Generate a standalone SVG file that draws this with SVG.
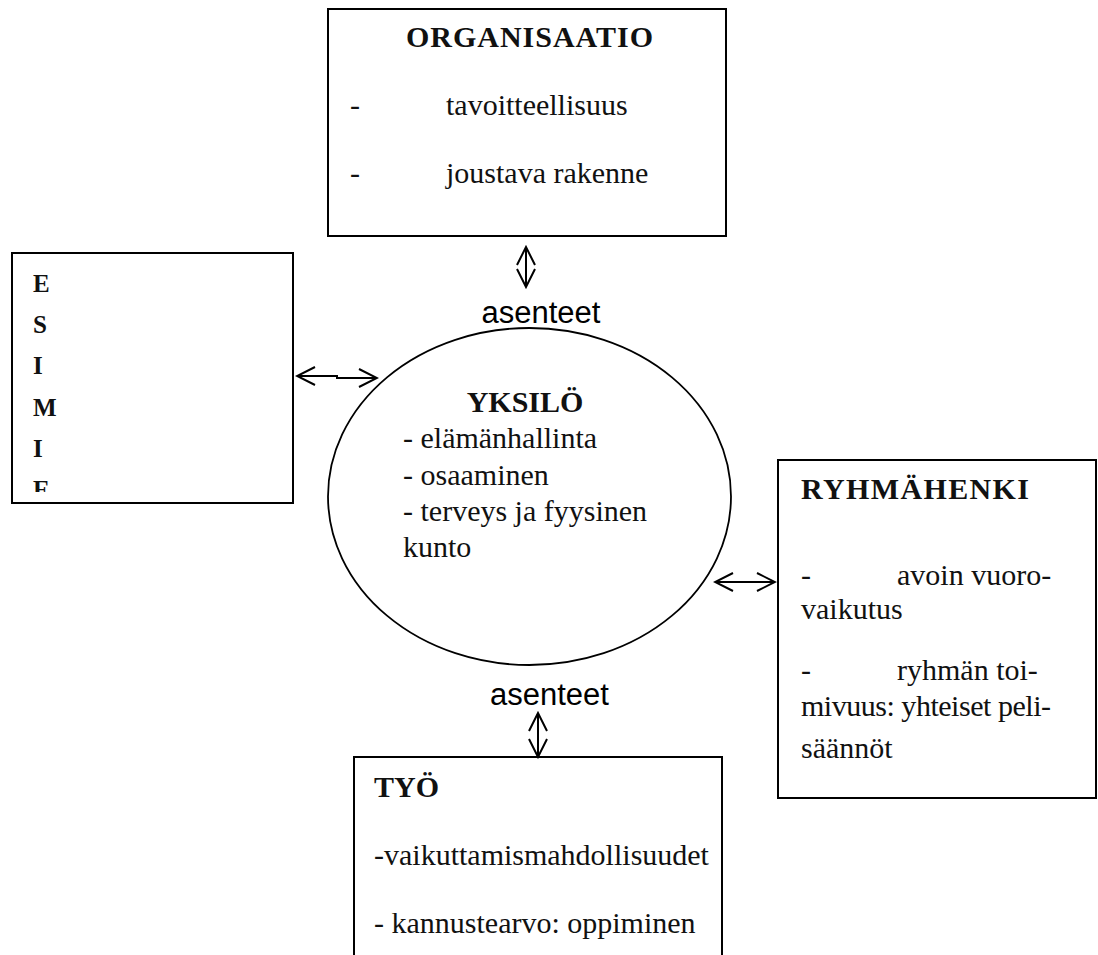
<svg xmlns="http://www.w3.org/2000/svg" width="1098" height="955" viewBox="0 0 1098 955">
  <style>
    .box { fill: #fff; stroke: #000; stroke-width: 2; }
    .serif { font-family: "Liberation Serif", "Times New Roman", serif; font-size: 30px; fill: #111; }
    .bold { font-weight: bold; }
    .esi { font-family: "Liberation Serif", "Times New Roman", serif; font-size: 25px; font-weight: bold; fill: #111; }
    .sans { font-family: "Liberation Sans", Arial, sans-serif; font-size: 31px; fill: #000; }
    .conn { fill: none; stroke: #000; stroke-width: 2; }
  </style>
  <defs>
    <marker id="chev" markerUnits="userSpaceOnUse" viewBox="-20 -11 22 22" refX="0" refY="0" markerWidth="22" markerHeight="22" orient="auto-start-reverse">
      <path d="M -18 -9 L 0 0 L -18 9" fill="none" stroke="#000" stroke-width="2"/>
    </marker>
    <clipPath id="esiClip">
      <rect x="13" y="254" width="279" height="238"/>
    </clipPath>
  </defs>
  <rect width="1098" height="955" fill="#fff"/>

  <g id="organisaatio">
    <rect class="box" x="328" y="9" width="398" height="227"/>
    <text class="serif bold" x="406" y="47" textLength="247" lengthAdjust="spacing">ORGANISAATIO</text>
    <text class="serif" x="350" y="115">-</text>
    <text class="serif" x="446" y="115">tavoitteellisuus</text>
    <text class="serif" x="350" y="183">-</text>
    <text class="serif" x="446" y="183">joustava rakenne</text>
  </g>

  <g id="esimies">
    <rect class="box" x="12" y="253" width="281" height="250"/>
    <g clip-path="url(#esiClip)">
      <text class="esi" x="33" y="292">E</text>
      <text class="esi" x="33" y="333">S</text>
      <text class="esi" x="33" y="374">I</text>
      <text class="esi" x="33" y="416">M</text>
      <text class="esi" x="33" y="457">I</text>
      <text class="esi" x="33" y="498">E</text>
    </g>
  </g>

  <g id="yksilo">
    <ellipse cx="529.5" cy="496.5" rx="201.5" ry="168.5" fill="none" stroke="#000" stroke-width="1.8"/>
    <text class="serif bold" x="525" y="412" text-anchor="middle">YKSILÖ</text>
    <text class="serif" x="403" y="448">- elämänhallinta</text>
    <text class="serif" x="403" y="485">- osaaminen</text>
    <text class="serif" x="403" y="521">- terveys ja fyysinen</text>
    <text class="serif" x="403" y="557">kunto</text>
  </g>

  <g id="ryhmahenki">
    <rect class="box" x="778" y="460" width="318" height="338"/>
    <text class="serif bold" x="801" y="499" textLength="228" lengthAdjust="spacing">RYHMÄHENKI</text>
    <text class="serif" x="801" y="585">-</text>
    <text class="serif" x="897" y="585">avoin vuoro-</text>
    <text class="serif" x="801" y="619">vaikutus</text>
    <text class="serif" x="801" y="680">-</text>
    <text class="serif" x="897" y="680">ryhmän toi-</text>
    <text class="serif" x="801" y="716" textLength="250" lengthAdjust="spacing">mivuus: yhteiset peli-</text>
    <text class="serif" x="801" y="758">säännöt</text>
  </g>

  <g id="tyo">
    <rect class="box" x="354" y="757" width="368" height="230"/>
    <text class="serif bold" x="374" y="797">TYÖ</text>
    <text class="serif" x="374" y="865">-vaikuttamismahdollisuudet</text>
    <text class="serif" x="374" y="933">- kannustearvo: oppiminen</text>
  </g>

  <g id="labels">
    <text class="sans" x="541" y="323" text-anchor="middle">asenteet</text>
    <text class="sans" x="549.5" y="705" text-anchor="middle">asenteet</text>
  </g>

  <g id="connectors">
    <path class="conn" d="M 526 247 L 526 287" marker-start="url(#chev)" marker-end="url(#chev)"/>
    <path class="conn" d="M 297 376 L 337 376 L 337 378 L 377 378" marker-start="url(#chev)" marker-end="url(#chev)"/>
    <path class="conn" d="M 715 582 L 775 582" marker-start="url(#chev)" marker-end="url(#chev)"/>
    <path class="conn" d="M 538 713 L 538 757" marker-start="url(#chev)" marker-end="url(#chev)"/>
  </g>
</svg>
